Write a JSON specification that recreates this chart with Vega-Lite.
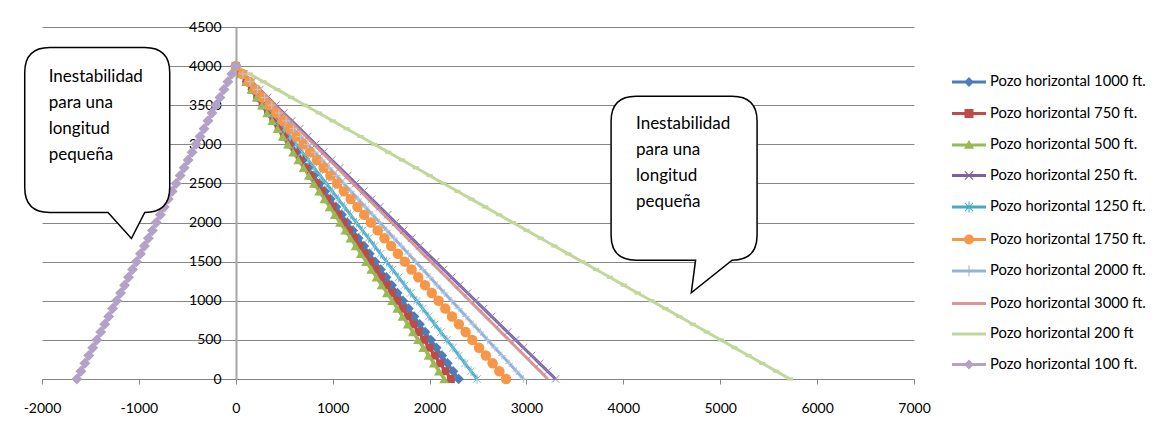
{
  "$schema": "https://vega.github.io/schema/vega-lite/v6.json",
  "width": 872,
  "height": 352,
  "autosize": "none",
  "padding": {"left": 42, "top": 27, "right": 245, "bottom": 56},
  "background": "white",
  "config": {"view": {"stroke": null}, "font": "Lato"},
  "datasets": {
    "pozos": [
      {"y":4000,"a":0,"b":0,"c":0,"d":0,"e":0,"f":0,"g":0,"h":0,"i":0,"j":0},
      {"y":3900,"a":58,"b":56,"c":54,"d":83,"e":62,"f":70,"g":74,"h":81,"i":143,"j":-41},
      {"y":3800,"a":115,"b":111,"c":108,"d":165,"e":125,"f":140,"g":149,"h":161,"i":286,"j":-82},
      {"y":3700,"a":173,"b":167,"c":161,"d":248,"e":187,"f":209,"g":223,"h":242,"i":429,"j":-123},
      {"y":3600,"a":230,"b":222,"c":215,"d":330,"e":249,"f":279,"g":297,"h":322,"i":572,"j":-164},
      {"y":3500,"a":288,"b":278,"c":269,"d":413,"e":311,"f":349,"g":371,"h":403,"i":715,"j":-205},
      {"y":3400,"a":345,"b":333,"c":323,"d":495,"e":374,"f":419,"g":446,"h":483,"i":858,"j":-246},
      {"y":3300,"a":403,"b":389,"c":376,"d":578,"e":436,"f":488,"g":520,"h":564,"i":1001,"j":-287},
      {"y":3200,"a":460,"b":444,"c":430,"d":660,"e":498,"f":558,"g":594,"h":644,"i":1144,"j":-328},
      {"y":3100,"a":518,"b":500,"c":484,"d":743,"e":560,"f":628,"g":668,"h":725,"i":1287,"j":-369},
      {"y":3000,"a":575,"b":555,"c":538,"d":825,"e":623,"f":698,"g":743,"h":805,"i":1430,"j":-410},
      {"y":2900,"a":633,"b":611,"c":591,"d":908,"e":685,"f":767,"g":817,"h":886,"i":1573,"j":-451},
      {"y":2800,"a":690,"b":666,"c":645,"d":990,"e":747,"f":837,"g":891,"h":966,"i":1716,"j":-492},
      {"y":2700,"a":748,"b":722,"c":699,"d":1073,"e":809,"f":907,"g":965,"h":1047,"i":1859,"j":-533},
      {"y":2600,"a":805,"b":777,"c":753,"d":1155,"e":872,"f":977,"g":1040,"h":1127,"i":2002,"j":-574},
      {"y":2500,"a":863,"b":833,"c":806,"d":1238,"e":934,"f":1046,"g":1114,"h":1208,"i":2145,"j":-615},
      {"y":2400,"a":920,"b":888,"c":860,"d":1320,"e":996,"f":1116,"g":1188,"h":1288,"i":2288,"j":-656},
      {"y":2300,"a":978,"b":944,"c":914,"d":1403,"e":1058,"f":1186,"g":1262,"h":1369,"i":2431,"j":-697},
      {"y":2200,"a":1035,"b":999,"c":968,"d":1485,"e":1121,"f":1256,"g":1337,"h":1449,"i":2574,"j":-738},
      {"y":2100,"a":1093,"b":1055,"c":1021,"d":1568,"e":1183,"f":1325,"g":1411,"h":1530,"i":2717,"j":-779},
      {"y":2000,"a":1150,"b":1110,"c":1075,"d":1650,"e":1245,"f":1395,"g":1485,"h":1610,"i":2860,"j":-820},
      {"y":1900,"a":1208,"b":1166,"c":1129,"d":1733,"e":1307,"f":1465,"g":1559,"h":1691,"i":3003,"j":-861},
      {"y":1800,"a":1265,"b":1221,"c":1183,"d":1815,"e":1370,"f":1535,"g":1634,"h":1771,"i":3146,"j":-902},
      {"y":1700,"a":1323,"b":1277,"c":1236,"d":1898,"e":1432,"f":1604,"g":1708,"h":1852,"i":3289,"j":-943},
      {"y":1600,"a":1380,"b":1332,"c":1290,"d":1980,"e":1494,"f":1674,"g":1782,"h":1932,"i":3432,"j":-984},
      {"y":1500,"a":1438,"b":1388,"c":1344,"d":2063,"e":1556,"f":1744,"g":1856,"h":2013,"i":3575,"j":-1025},
      {"y":1400,"a":1495,"b":1443,"c":1398,"d":2145,"e":1619,"f":1814,"g":1931,"h":2093,"i":3718,"j":-1066},
      {"y":1300,"a":1553,"b":1499,"c":1451,"d":2228,"e":1681,"f":1883,"g":2005,"h":2174,"i":3861,"j":-1107},
      {"y":1200,"a":1610,"b":1554,"c":1505,"d":2310,"e":1743,"f":1953,"g":2079,"h":2254,"i":4004,"j":-1148},
      {"y":1100,"a":1668,"b":1610,"c":1559,"d":2393,"e":1805,"f":2023,"g":2153,"h":2335,"i":4147,"j":-1189},
      {"y":1000,"a":1725,"b":1665,"c":1613,"d":2475,"e":1868,"f":2093,"g":2228,"h":2415,"i":4290,"j":-1230},
      {"y":900,"a":1783,"b":1721,"c":1666,"d":2558,"e":1930,"f":2162,"g":2302,"h":2496,"i":4433,"j":-1271},
      {"y":800,"a":1840,"b":1776,"c":1720,"d":2640,"e":1992,"f":2232,"g":2376,"h":2576,"i":4576,"j":-1312},
      {"y":700,"a":1898,"b":1832,"c":1774,"d":2723,"e":2054,"f":2302,"g":2450,"h":2657,"i":4719,"j":-1353},
      {"y":600,"a":1955,"b":1887,"c":1828,"d":2805,"e":2117,"f":2372,"g":2525,"h":2737,"i":4862,"j":-1394},
      {"y":500,"a":2013,"b":1943,"c":1881,"d":2888,"e":2179,"f":2441,"g":2599,"h":2818,"i":5005,"j":-1435},
      {"y":400,"a":2070,"b":1998,"c":1935,"d":2970,"e":2241,"f":2511,"g":2673,"h":2898,"i":5148,"j":-1476},
      {"y":300,"a":2128,"b":2054,"c":1989,"d":3053,"e":2303,"f":2581,"g":2747,"h":2979,"i":5291,"j":-1517},
      {"y":200,"a":2185,"b":2109,"c":2043,"d":3135,"e":2366,"f":2651,"g":2822,"h":3059,"i":5434,"j":-1558},
      {"y":100,"a":2243,"b":2165,"c":2096,"d":3218,"e":2428,"f":2720,"g":2896,"h":3140,"i":5577,"j":-1599},
      {"y":0,"a":2300,"b":2220,"c":2150,"d":3300,"e":2490,"f":2790,"g":2970,"h":3220,"i":5720,"j":-1640}
    ],
    "series": [
      {"key":"a","name":"Pozo horizontal 1000 ft."},
      {"key":"b","name":"Pozo horizontal 750 ft."},
      {"key":"c","name":"Pozo horizontal 500 ft."},
      {"key":"d","name":"Pozo horizontal 250 ft."},
      {"key":"e","name":"Pozo horizontal 1250 ft."},
      {"key":"f","name":"Pozo horizontal 1750 ft."},
      {"key":"g","name":"Pozo horizontal 2000 ft."},
      {"key":"h","name":"Pozo horizontal 3000 ft."},
      {"key":"i","name":"Pozo horizontal 200 ft"},
      {"key":"j","name":"Pozo horizontal 100 ft."}
    ],
    "notas": [
      {"bx":-1430,"by":3017,"tx":-1931,"ty":3803,"texto":"Inestabilidad\npara una\nlongitud\npequeña","n":1},
      {"bx":4627,"by":2359,"tx":4131,"ty":3190,"texto":"Inestabilidad\npara una\nlongitud\npequeña","n":2}
    ]
  },
  "layer": [
    {
      "data": {"name": "pozos"},
      "transform": [
        {"fold": ["a","b","c","d","e","f","g","h","i","j"], "as": ["key","x"]},
        {"lookup": "key", "from": {"data": {"name": "series"}, "key": "key", "fields": ["name"]}}
      ],
      "layer": [
        {
          "mark": {"type": "line", "strokeWidth": 3, "opacity": 1},
          "encoding": {
            "x": {"field": "x", "type": "quantitative", "title": null,
                  "scale": {"domain": [-2000, 7000], "nice": false, "zero": false},
                  "axis": {"grid": false, "tickCount": 9, "labelExpr": "'' + datum.value", "domainColor": "#868686", "domainWidth": 1, "tickColor": "#868686", "tickSize": 5, "labelPadding": 17, "labelFont": "Lato", "labelFontSize": 14, "labelColor": "#000000", "labelFlush": false}},
            "y": {"field": "y", "type": "quantitative", "title": null,
                  "scale": {"domain": [0, 4500], "nice": false, "zero": false},
                  "axis": {"grid": true, "gridColor": "#868686", "gridWidth": 1, "tickCount": 9, "labelExpr": "'' + datum.value", "offset": -194, "domainColor": "#A6A6A6", "domainWidth": 2, "ticks": false, "labelPadding": 15, "labelFont": "Lato", "labelFontSize": 14, "labelColor": "#000000", "labelFlush": false}},
            "order": {"field": "y", "type": "quantitative"},
            "stroke": {
              "field": "key", "type": "nominal",
              "scale": {
                "domain": ["a","b","c","d","e","f","g","h","i","j"],
                "range": ["#4A7EBB","#BE4B48","#98B954","#7D60A0","#46AAC5","#F79646","#95B3D7","#D99694","#C3D69B","#B3A2C7"]
              },
              "legend": null
            }
          }
        },
        {"transform": [{"filter": "datum.key === 'a'"}], "mark": {"type": "point", "shape": "diamond", "size": 110, "filled": true, "color": "#4A7EBB", "opacity": 1}, "encoding": {"x": {"field": "x", "type": "quantitative"}, "y": {"field": "y", "type": "quantitative"}}},
        {"transform": [{"filter": "datum.key === 'b'"}], "mark": {"type": "point", "shape": "square", "size": 64, "filled": true, "color": "#BE4B48", "opacity": 1}, "encoding": {"x": {"field": "x", "type": "quantitative"}, "y": {"field": "y", "type": "quantitative"}}},
        {"transform": [{"filter": "datum.key === 'c'"}], "mark": {"type": "point", "shape": "triangle-up", "size": 95, "filled": true, "color": "#98B954", "opacity": 1}, "encoding": {"x": {"field": "x", "type": "quantitative"}, "y": {"field": "y", "type": "quantitative"}}},
        {"transform": [{"filter": "datum.key === 'd'"}], "mark": {"type": "point", "shape": "M-1,-1L1,1M-1,1L1,-1", "size": 56, "filled": false, "color": "#9B87BE", "strokeWidth": 1, "opacity": 1}, "encoding": {"x": {"field": "x", "type": "quantitative"}, "y": {"field": "y", "type": "quantitative"}}},
        {"transform": [{"filter": "datum.key === 'e'"}], "mark": {"type": "point", "shape": "M-1,-1L1,1M-1,1L1,-1M0,-1.3L0,1.3", "size": 56, "filled": false, "color": "#7CC3D8", "strokeWidth": 1, "opacity": 1}, "encoding": {"x": {"field": "x", "type": "quantitative"}, "y": {"field": "y", "type": "quantitative"}}},
        {"transform": [{"filter": "datum.key === 'f'"}], "mark": {"type": "point", "shape": "circle", "size": 110, "filled": true, "color": "#F79646", "opacity": 1}, "encoding": {"x": {"field": "x", "type": "quantitative"}, "y": {"field": "y", "type": "quantitative"}}},
        {"transform": [{"filter": "datum.key === 'g'"}], "mark": {"type": "point", "shape": "M-1,0L1,0M0,-1L0,1", "size": 64, "filled": false, "color": "#B4C8E4", "strokeWidth": 1, "opacity": 1}, "encoding": {"x": {"field": "x", "type": "quantitative"}, "y": {"field": "y", "type": "quantitative"}}},
        {"transform": [{"filter": "datum.key === 'i'"}], "mark": {"type": "point", "shape": "M-1,-0.5L1,-0.5L1,0.5L-1,0.5Z", "size": 40, "filled": true, "color": "#C3D69B", "opacity": 1}, "encoding": {"x": {"field": "x", "type": "quantitative"}, "y": {"field": "y", "type": "quantitative"}}},
        {"transform": [{"filter": "datum.key === 'j'"}], "mark": {"type": "point", "shape": "diamond", "size": 121, "filled": true, "color": "#B3A2C7", "opacity": 1}, "encoding": {"x": {"field": "x", "type": "quantitative"}, "y": {"field": "y", "type": "quantitative"}}},
        {
          "transform": [{"filter": "datum.y < 0"}],
          "mark": {"type": "point", "filled": true, "size": 1156, "opacity": 1},
          "encoding": {
            "x": {"field": "x", "type": "quantitative"},
            "y": {"field": "y", "type": "quantitative"},
            "color": {
              "field": "name", "type": "nominal",
              "scale": {
                "domain": ["Pozo horizontal 1000 ft.","Pozo horizontal 750 ft.","Pozo horizontal 500 ft.","Pozo horizontal 250 ft.","Pozo horizontal 1250 ft.","Pozo horizontal 1750 ft.","Pozo horizontal 2000 ft.","Pozo horizontal 3000 ft.","Pozo horizontal 200 ft","Pozo horizontal 100 ft."],
                "range": ["#4A7EBB","#BE4B48","#98B954","#7D60A0","#46AAC5","#F79646","#95B3D7","#D99694","#C3D69B","#B3A2C7"]
              },
              "legend": {"orient": "none", "legendX": 909, "legendY": 37, "title": null, "padding": 0, "symbolSize": 1156, "symbolOpacity": 1, "labelFont": "Lato", "labelFontSize": 14.8, "labelColor": "#000000", "labelOffset": 3, "rowPadding": 5.5}
            },
            "shape": {
              "field": "name", "type": "nominal",
              "scale": {
                "domain": ["Pozo horizontal 1000 ft.","Pozo horizontal 750 ft.","Pozo horizontal 500 ft.","Pozo horizontal 250 ft.","Pozo horizontal 1250 ft.","Pozo horizontal 1750 ft.","Pozo horizontal 2000 ft.","Pozo horizontal 3000 ft.","Pozo horizontal 200 ft","Pozo horizontal 100 ft."],
                "range": [
                  "M-1,-0.088L1,-0.088L1,0.088L-1,0.088ZM0,-0.29L0.29,0L0,0.29L-0.29,0Z",
                  "M-1,-0.088L1,-0.088L1,0.088L-1,0.088ZM-0.265,-0.265L0.265,-0.265L0.265,0.265L-0.265,0.265Z",
                  "M-1,-0.088L1,-0.088L1,0.088L-1,0.088ZM0,-0.3L0.3,0.22L-0.3,0.22Z",
                  "M-1,-0.088L1,-0.088L1,0.088L-1,0.088ZM-0.26,-0.22L-0.22,-0.26L0.26,0.22L0.22,0.26ZM-0.22,0.26L-0.26,0.22L0.22,-0.26L0.26,-0.22Z",
                  "M-1,-0.088L1,-0.088L1,0.088L-1,0.088ZM-0.26,-0.22L-0.22,-0.26L0.26,0.22L0.22,0.26ZM-0.22,0.26L-0.26,0.22L0.22,-0.26L0.26,-0.22ZM-0.03,-0.32L0.03,-0.32L0.03,0.32L-0.03,0.32Z",
                  "M-1,-0.088L1,-0.088L1,0.088L-1,0.088ZM0.29,0A0.29,0.29 0 1,1 -0.29,0A0.29,0.29 0 1,1 0.29,0Z",
                  "M-1,-0.088L1,-0.088L1,0.088L-1,0.088ZM-0.03,-0.32L0.03,-0.32L0.03,0.32L-0.03,0.32Z",
                  "M-1,-0.088L1,-0.088L1,0.088L-1,0.088Z",
                  "M-1,-0.088L1,-0.088L1,0.088L-1,0.088Z",
                  "M-1,-0.088L1,-0.088L1,0.088L-1,0.088ZM0,-0.29L0.29,0L0,0.29L-0.29,0Z"
                ]
              },
              "legend": {"orient": "none", "legendX": 909, "legendY": 37, "title": null, "padding": 0, "symbolSize": 1156, "symbolOpacity": 1, "labelFont": "Lato", "labelFontSize": 14.8, "labelColor": "#000000", "labelOffset": 3, "rowPadding": 5.5}
            }
          }
        }
      ]
    },
    {
      "data": {"name": "notas"},
      "transform": [{"filter": "datum.n === 1"}],
      "mark": {"type": "point", "shape": "M-0.475,-0.955L0.475,-0.955Q0.725,-0.955 0.725,-0.705L0.725,0.445Q0.725,0.695 0.475,0.695L0.342,0.955L0.108,0.695L-0.475,0.695Q-0.725,0.695 -0.725,0.445L-0.725,-0.705Q-0.725,-0.955 -0.475,-0.955Z", "size": 40000, "filled": true, "fill": "#ffffff", "stroke": "#000000", "strokeWidth": 1.5, "opacity": 1},
      "encoding": {"x": {"field": "bx", "type": "quantitative", "title": null}, "y": {"field": "by", "type": "quantitative", "title": null}}
    },
    {
      "data": {"name": "notas"},
      "transform": [{"filter": "datum.n === 2"}],
      "mark": {"type": "point", "shape": "M-0.48,-0.983L0.48,-0.983Q0.73,-0.983 0.73,-0.733L0.73,0.407Q0.73,0.657 0.48,0.657L0.072,0.983L0.115,0.657L-0.48,0.657Q-0.73,0.657 -0.73,0.407L-0.73,-0.733Q-0.73,-0.983 -0.48,-0.983Z", "size": 40000, "filled": true, "fill": "#ffffff", "stroke": "#000000", "strokeWidth": 1.5, "opacity": 1},
      "encoding": {"x": {"field": "bx", "type": "quantitative", "title": null}, "y": {"field": "by", "type": "quantitative", "title": null}}
    },
    {
      "data": {"name": "notas"},
      "mark": {"type": "text", "align": "left", "baseline": "alphabetic", "lineBreak": "\n", "lineHeight": 26, "font": "Lato", "fontSize": 17, "color": "#000000"},
      "encoding": {"x": {"field": "tx", "type": "quantitative", "title": null}, "y": {"field": "ty", "type": "quantitative", "title": null}, "text": {"field": "texto"}}
    }
  ]
}
